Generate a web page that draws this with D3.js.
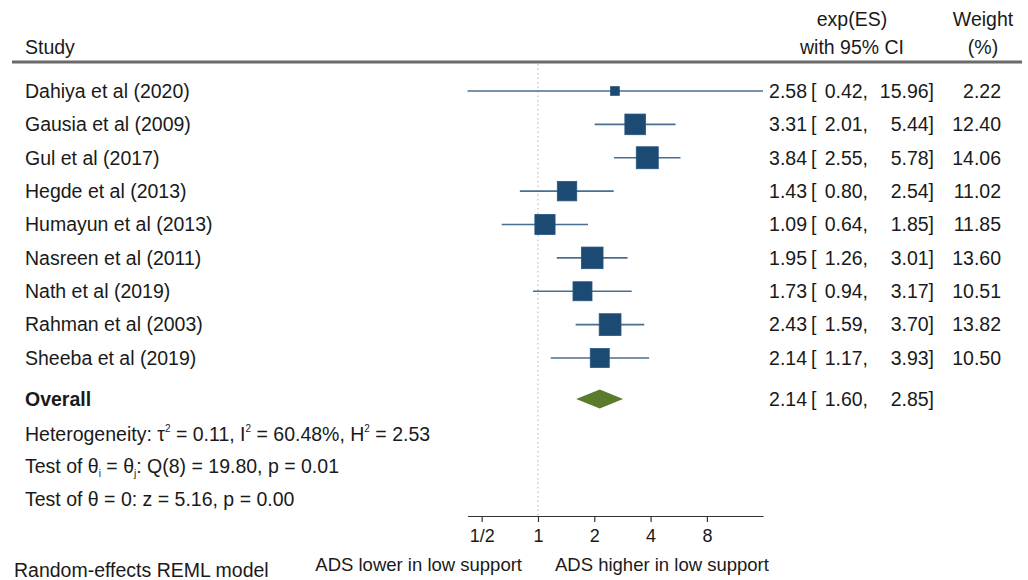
<!DOCTYPE html>
<html><head><meta charset="utf-8">
<script src="https://cdn.jsdelivr.net/npm/d3@7"></script>
<style>
body{margin:0;background:#fff;}
svg text{font-family:"Liberation Sans",Arial,sans-serif;fill:#1a1a1a;}
</style></head>
<body>
<svg id="chart" width="1028" height="580"></svg>
<script>
const studies = ["Dahiya et al (2020)","Gausia et al (2009)","Gul et al (2017)","Hegde et al (2013)","Humayun et al (2013)","Nasreen et al (2011)","Nath et al (2019)","Rahman et al (2003)","Sheeba et al (2019)"];
const es    = [2.58, 3.31, 3.84, 1.43, 1.09, 1.95, 1.73, 2.43, 2.14];
const lower = [0.42, 2.01, 2.55, 0.80, 0.64, 1.26, 0.94, 1.59, 1.17];
const upper = [15.96, 5.44, 5.78, 2.54, 1.85, 3.01, 3.17, 3.70, 3.93];
const weight = [2.22, 12.40, 14.06, 11.02, 11.85, 13.60, 10.51, 13.82, 10.50];
const overall = {es: 2.14, lower: 1.60, upper: 2.85};
const tickValues = [0.5, 1, 2, 4, 8];
const tickLabels = ["1/2", "1", "2", "4", "8"];
const stats = [
  [["Heterogeneity: τ",""],["2","sup"],[" = 0.11, I",""],["2","sup"],[" = 60.48%, H",""],["2","sup"],[" = 2.53",""]],
  [["Test of θ",""],["i","sub"],[" = θ",""],["j","sub"],[": Q(8) = 19.80, p = 0.01",""]],
  [["Test of θ = 0: z = 5.16, p = 0.00",""]]
];

const svg = d3.select("#chart");
const fs = 19.5;
const fmt = d3.format(".2f");

const x = d3.scaleLog().base(2).domain([0.42, 15.96]).range([467.5, 763]);
const y = d3.scalePoint().domain(d3.range(studies.length)).range([91, 358]);
const yOverall = 399;
const size = d3.scaleSqrt().domain([0, 14.06]).range([0, 22]);
const axisY = 516;

function txt(xx, yy, s, anchor, size){
  return svg.append("text").attr("x",xx).attr("y",yy).attr("dy","0.35em")
    .attr("text-anchor",anchor||"start").attr("font-size",size||fs).text(s);
}

// header
txt(25,47,"Study");
txt(852,19,"exp(ES)","middle");
txt(852,47,"with 95% CI","middle");
txt(983,19,"Weight","middle");
txt(983,47,"(%)","middle");
svg.append("line").attr("x1",12).attr("x2",1022).attr("y1",62).attr("y2",62).attr("stroke","#6a6a6a").attr("stroke-width",3);

// reference line
svg.append("line").attr("x1",x(1)).attr("x2",x(1)).attr("y1",64).attr("y2",axisY)
  .attr("stroke","#b0b0b0").attr("stroke-width",1).attr("stroke-dasharray","1.5,3");

const rows = svg.append("g").selectAll("g").data(studies).join("g");
rows.append("text").attr("x",25).attr("y",(d,i)=>y(i)).attr("dy","0.35em").attr("font-size",fs).text(d=>d);
rows.append("line").attr("x1",(d,i)=>x(lower[i])).attr("x2",(d,i)=>x(upper[i]))
  .attr("y1",(d,i)=>y(i)).attr("y2",(d,i)=>y(i)).attr("stroke","#4a6e8f").attr("stroke-width",1.6);
rows.append("rect").attr("x",(d,i)=>x(es[i])-size(weight[i])/2).attr("y",(d,i)=>y(i)-size(weight[i])/2)
  .attr("width",(d,i)=>size(weight[i])).attr("height",(d,i)=>size(weight[i]))
  .attr("fill","#1b4a73").attr("stroke","#2a5680").attr("stroke-width",0.8);

function esText(yy, e, l, u, w){
  txt(807,yy,fmt(e),"end");
  txt(811,yy,"[");
  txt(868,yy,fmt(l)+",","end");
  txt(934,yy,fmt(u)+"]","end");
  if (w !== null) txt(1001,yy,fmt(w),"end");
}
studies.forEach((s,i)=>esText(y(i), es[i], lower[i], upper[i], weight[i]));

// overall
txt(25,yOverall,"Overall").attr("font-weight","bold");
const dh = 9.5;
svg.append("path").attr("d",`M${x(overall.lower)},${yOverall} L${x(overall.es)},${yOverall-dh} L${x(overall.upper)},${yOverall} L${x(overall.es)},${yOverall+dh} Z`)
  .attr("fill","#5a7a2c");
esText(yOverall, overall.es, overall.lower, overall.upper, null);

// stats
const statY = [434, 466, 499];
stats.forEach((parts,k)=>{
  const t = svg.append("text").attr("x",25).attr("y",statY[k] + 7).attr("font-size",fs);
  let shift = 0;
  parts.forEach(p=>{
    const ts = t.append("tspan").text(p[0]);
    let target = 0;
    if (p[1]==="sup") { ts.attr("font-size",10); target = -9; }
    else if (p[1]==="sub") { ts.attr("font-size",10); target = 4; }
    ts.attr("dy", target - shift);
    shift = target;
  });
});

// axis
const axis = d3.axisBottom(x).tickValues(tickValues).tickFormat((d,i)=>tickLabels[i]).tickSize(6).tickSizeOuter(0);
const ag = svg.append("g").attr("transform",`translate(0,${axisY})`).call(axis);
ag.select(".domain").attr("stroke","#333").attr("stroke-width",1.2);
ag.selectAll(".tick line").attr("stroke","#333").attr("stroke-width",1.2);
ag.selectAll(".tick text").attr("font-size",18).attr("font-family","Liberation Sans, Arial, sans-serif").attr("fill","#1a1a1a").attr("dy","0.95em");

txt(522,565,"ADS lower in low support","end",18.5);
txt(555,565,"ADS higher in low support","start",18.5);
txt(14,570,"Random-effects REML model");
</script>
</body></html>
